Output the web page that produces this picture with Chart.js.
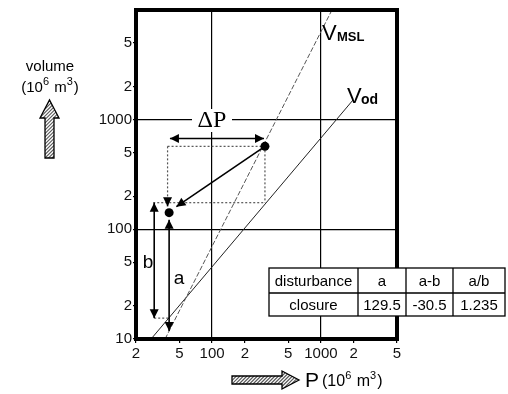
<!DOCTYPE html>
<html>
<head>
<meta charset="utf-8">
<script src="https://cdn.jsdelivr.net/npm/chart.js@4.4.0/dist/chart.umd.min.js"></script>
<style>
  body { margin: 0; background: #fff; }
  #wrap { width: 508px; height: 394px; }
</style>
</head>
<body>
<div id="wrap"><canvas id="chart" width="508" height="394"></canvas></div>
<script>
// axis ticks (log-log)
const xTicks = [20, 50, 100, 200, 500, 1000, 2000, 5000];
const yTicks = [10, 20, 50, 100, 200, 500, 1000, 2000, 5000];
const majorTicks = [100, 1000];

// V_MSL and V_od lines (P, volume)
const vmslP = [37, 1250];
const vmslV = [10, 9800];
const vodP = [27.5, 1970];
const vodV = [10, 1510];

// the two states
const pointP = [306, 40.3];
const pointV = [571, 142];

// dotted guides
const guideTopP = [39, 306],    guideTopV = [571, 571];
const guideLeftP = [39, 39],    guideLeftV = [571, 165];
const guideLowP = [28.8, 306],  guideLowV = [175, 175];
const guideRightP = [306, 306], guideRightV = [571, 175];
const guideBotP = [29.4, 40.3], guideBotV = [15.5, 15.5];

// arrows: [p1, v1, p2, v2, headAtStart, headAtEnd]
const arrows = [
  [306, 571, 47, 161, false, true],   // move of the state
  [41, 674, 300, 674, true, true],    // delta P
  [40.3, 122, 40.3, 11.8, true, true], // a
  [29.4, 175, 29.4, 15.5, true, true], // b
  [39, 185, 39, 162, false, true]     // head on dotted guide
];

// table
const tableHead = ['disturbance', 'a', 'a-b', 'a/b'];
const tableRow = ['closure', '129.5', '-30.5', '1.235'];

const SANS = '"Liberation Sans", Arial, Helvetica, sans-serif';
const SERIF = '"Liberation Serif", "Times New Roman", serif';

function tickLabel(v) {
  if (v === 10 || v === 100 || v === 1000) return String(v);
  const p = Math.pow(10, Math.floor(Math.log10(v) + 1e-9));
  return String(Math.round(v / p));
}

function pts(xs, ys) {
  return xs.map((x, i) => ({ x: x, y: ys[i] }));
}

function guide(xs, ys) {
  return {
    data: pts(xs, ys), showLine: true, pointRadius: 0,
    borderColor: '#555', borderWidth: 1.2, borderDash: [2, 2]
  };
}

function arrowHead(ctx, x1, y1, x2, y2) {
  const a = Math.atan2(y2 - y1, x2 - x1);
  const len = 9, w = 4.5;
  ctx.beginPath();
  ctx.moveTo(x2, y2);
  ctx.lineTo(x2 - len * Math.cos(a) + w * Math.sin(a), y2 - len * Math.sin(a) - w * Math.cos(a));
  ctx.lineTo(x2 - len * Math.cos(a) - w * Math.sin(a), y2 - len * Math.sin(a) + w * Math.cos(a));
  ctx.closePath();
  ctx.fill();
}

function polyPath(ctx, poly) {
  ctx.beginPath();
  poly.forEach((p, i) => i ? ctx.lineTo(p[0], p[1]) : ctx.moveTo(p[0], p[1]));
  ctx.closePath();
}

function hatchedShape(ctx, poly) {
  ctx.save();
  polyPath(ctx, poly);
  ctx.clip();
  ctx.strokeStyle = '#555';
  ctx.lineWidth = 1.2;
  for (let k = 0; k < 1000; k += 3.5) {
    ctx.beginPath();
    ctx.moveTo(k, 0);
    ctx.lineTo(k - 400, 400);
    ctx.stroke();
  }
  ctx.restore();
  ctx.save();
  polyPath(ctx, poly);
  ctx.strokeStyle = '#000';
  ctx.lineWidth = 1.3;
  ctx.stroke();
  ctx.restore();
}

// "(10^6 m^3)" with real superscripts; returns width, left aligned at x
function unitText(ctx, x, y, size, measureOnly) {
  const parts = [['(10', 0], ['6', 1], [' m', 0], ['3', 1], [')', 0]];
  let w = 0;
  parts.forEach(p => {
    ctx.font = (p[1] ? Math.round(size * 0.7) : size) + 'px ' + SANS;
    if (!measureOnly) ctx.fillText(p[0], x + w, p[1] ? y - size * 0.38 : y);
    w += ctx.measureText(p[0]).width + (p[1] ? 1 : 0);
  });
  return w;
}

const decor = {
  id: 'decor',
  afterDraw(chart) {
    const ctx = chart.ctx;
    const xs = chart.scales.x, ys = chart.scales.y;
    const area = chart.chartArea;
    ctx.save();

    // dots
    ctx.fillStyle = '#000';
    pointP.forEach((p, i) => {
      ctx.beginPath();
      ctx.arc(xs.getPixelForValue(p), ys.getPixelForValue(pointV[i]), 4.5, 0, Math.PI * 2);
      ctx.fill();
    });

    // arrows
    ctx.strokeStyle = '#000';
    ctx.lineWidth = 1.6;
    arrows.forEach(a => {
      const x1 = xs.getPixelForValue(a[0]), y1 = ys.getPixelForValue(a[1]);
      const x2 = xs.getPixelForValue(a[2]), y2 = ys.getPixelForValue(a[3]);
      ctx.beginPath();
      ctx.moveTo(x1, y1);
      ctx.lineTo(x2, y2);
      ctx.stroke();
      if (a[4]) arrowHead(ctx, x2, y2, x1, y1);
      if (a[5]) arrowHead(ctx, x1, y1, x2, y2);
    });

    // delta P label with white box over grid line
    ctx.fillStyle = '#fff';
    ctx.fillRect(192, 109, 40, 23);
    ctx.fillStyle = '#000';
    ctx.font = '24px ' + SERIF;
    ctx.textAlign = 'center';
    ctx.textBaseline = 'middle';
    ctx.fillText('\u0394P', 212, 121);

    // a, b labels
    ctx.font = '19px ' + SANS;
    ctx.fillText('b', 148, 263);
    ctx.fillText('a', 179, 279);

    // line labels
    ctx.textAlign = 'left';
    ctx.textBaseline = 'alphabetic';
    ctx.font = '22px ' + SANS;
    ctx.fillText('V', 322, 40);
    ctx.fillText('V', 347, 103);
    ctx.font = 'bold 13px ' + SANS;
    ctx.fillText('MSL', 337, 41);
    ctx.font = 'bold 14px ' + SANS;
    ctx.fillText('od', 361, 104);

    // frame
    ctx.lineWidth = 4;
    ctx.strokeStyle = '#000';
    ctx.strokeRect(area.left, area.top, area.right - area.left, area.bottom - area.top);

    // table
    const tx = [269, 358, 406, 453, 505];
    const ty = [268, 293, 316];
    ctx.fillStyle = '#fff';
    ctx.fillRect(tx[0], ty[0], tx[4] - tx[0], ty[2] - ty[0]);
    ctx.lineWidth = 1.3;
    ctx.strokeRect(tx[0], ty[0], tx[4] - tx[0], ty[2] - ty[0]);
    ctx.beginPath();
    ctx.moveTo(tx[0], ty[1]); ctx.lineTo(tx[4], ty[1]);
    for (let i = 1; i < 4; i++) { ctx.moveTo(tx[i], ty[0]); ctx.lineTo(tx[i], ty[2]); }
    ctx.stroke();
    ctx.fillStyle = '#000';
    ctx.font = '15px ' + SANS;
    ctx.textAlign = 'center';
    ctx.textBaseline = 'middle';
    for (let i = 0; i < 4; i++) {
      const cx = (tx[i] + tx[i + 1]) / 2;
      ctx.fillText(tableHead[i], cx, (ty[0] + ty[1]) / 2 + 1);
      ctx.fillText(tableRow[i], cx, (ty[1] + ty[2]) / 2 + 1);
    }

    // axis titles
    ctx.font = '15px ' + SANS;
    ctx.fillText('volume', 50, 67);
    ctx.textAlign = 'left';
    const uw = unitText(ctx, 0, 0, 15, true);
    unitText(ctx, 50 - uw / 2, 88, 15, false);
    hatchedShape(ctx, [[45, 158], [45, 118], [40, 118], [49.5, 100], [59, 118], [54, 118], [54, 158]]);
    hatchedShape(ctx, [[232, 376], [282, 376], [282, 371], [299, 380], [282, 389], [282, 384], [232, 384]]);
    ctx.fillStyle = '#000';
    ctx.font = '21px ' + SANS;
    ctx.fillText('P', 305, 381);
    unitText(ctx, 322, 382, 16, false);

    ctx.restore();
  }
};

const gridColor = c => (c.tick && majorTicks.includes(c.tick.value)) ? '#000' : 'rgba(0,0,0,0)';

new Chart(document.getElementById('chart'), {
  type: 'scatter',
  data: {
    datasets: [
      { data: pts(vmslP, vmslV), showLine: true, pointRadius: 0, borderColor: '#555', borderWidth: 1, borderDash: [5, 2] },
      { data: pts(vodP, vodV), showLine: true, pointRadius: 0, borderColor: '#222', borderWidth: 1 },
      guide(guideTopP, guideTopV),
      guide(guideLeftP, guideLeftV),
      guide(guideLowP, guideLowV),
      guide(guideRightP, guideRightV),
      guide(guideBotP, guideBotV)
    ]
  },
  options: {
    responsive: false,
    animation: false,
    layout: { padding: { top: 7, right: 111, left: 0, bottom: 0 } },
    plugins: { legend: { display: false }, tooltip: { enabled: false } },
    scales: {
      x: {
        type: 'logarithmic', min: 20, max: 5000,
        afterBuildTicks: s => { s.ticks = xTicks.map(v => ({ value: v })); },
        afterFit: s => { s.height = 55; },
        border: { display: false },
        grid: { color: gridColor, tickColor: '#000', tickLength: 4, lineWidth: 1.2 },
        ticks: {
          callback: v => tickLabel(v), autoSkip: false, maxRotation: 0,
          color: '#111', padding: 2, font: { family: SANS, size: 15 }
        }
      },
      y: {
        type: 'logarithmic', min: 10, max: 10000,
        afterBuildTicks: s => { s.ticks = yTicks.map(v => ({ value: v })); },
        afterFit: s => { s.width = 136; },
        border: { display: false },
        grid: { color: gridColor, tickColor: '#000', tickLength: 3, lineWidth: 1.2 },
        ticks: {
          callback: v => tickLabel(v), autoSkip: false,
          color: '#111', padding: 1, font: { family: SANS, size: 15 }
        }
      }
    }
  },
  plugins: [decor]
});
</script>
</body>
</html>
